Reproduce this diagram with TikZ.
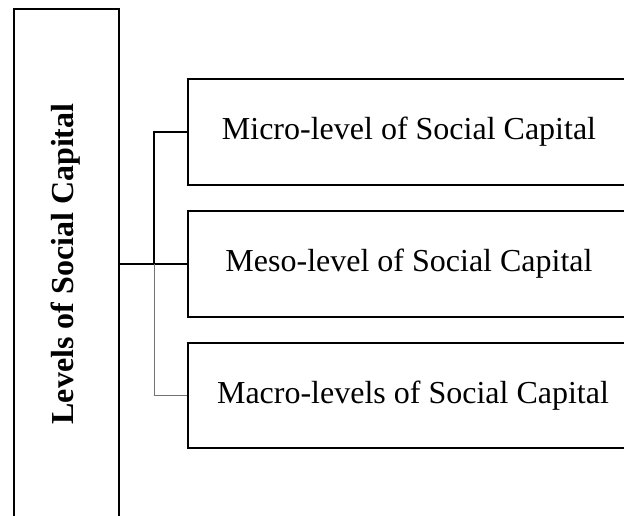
\documentclass[tikz,border=0pt]{standalone}
\usepackage{fontspec}
\setmainfont{Liberation Serif}
\begin{document}
\begin{tikzpicture}[x=1pt,y=-1pt,
  boxstyle/.style={draw=black, line width=2pt, inner sep=0pt, fill=none},
  lvl/.style={boxstyle, minimum width=444pt, minimum height=106pt},
  lbl/.style={inner sep=0pt, font=\fontsize{32}{38}\selectfont},
  mainconn/.style={line width=2pt, draw=black},
  thinconn/.style={line width=1.1pt, draw=black},
  greyconn/.style={line width=1pt, draw=black!55}]
\useasboundingbox (0,0) rectangle (624,515);
\clip (0,0) rectangle (624,515);
% left tall box
\node[boxstyle, minimum width=105.5pt, minimum height=510pt] (L) at (66.25,264) {};
\node[lbl, rotate=90, font=\fontsize{32}{38}\selectfont\bfseries] (Lt) at (66,264) {Levels of Social Capital};
% right boxes
\node[lvl] (m1) at (410,132) {};
\node[lbl] (t1) at (409,132) {Micro-level of Social Capital};
\node[lvl] (m2) at (410,264) {};
\node[lbl] (t2) at (409,264) {Meso-level of Social Capital};
\node[lvl, minimum height=105pt] (m3) at (410,395.5) {};
\node[lbl] (t3) at (413,395.5) {Macro-levels of Social Capital};
% connectors
\coordinate (j) at (154,264);
\draw[mainconn] (L.east) -- (m2.west);
\draw[thinconn] (j) |- (m1.west);
\draw[greyconn] (j) |- (m3.west);
\end{tikzpicture}
\end{document}
